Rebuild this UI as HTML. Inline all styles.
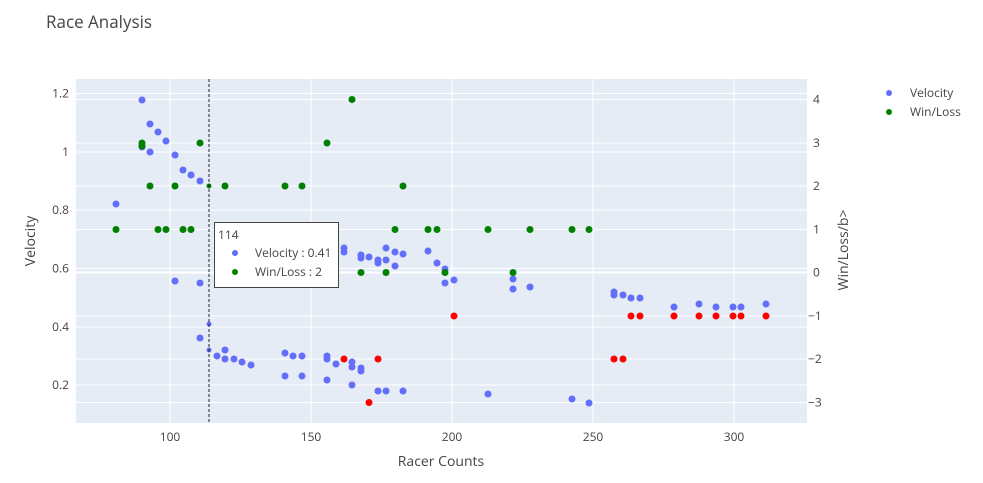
<!DOCTYPE html>
<html><head><meta charset="utf-8"><style>
body{margin:0;background:#fff;}
text{font-family:"Open Sans","Liberation Sans",sans-serif;fill:#444;}
</style></head><body>
<svg width="983" height="478" xmlns="http://www.w3.org/2000/svg">
<rect width="983" height="478" fill="#fff"/>
<rect x="76" y="79" width="731" height="344" fill="#e5ecf6"/>
<g stroke="#fff" stroke-width="1">
<line x1="170" y1="79" x2="170" y2="423"/><line x1="311" y1="79" x2="311" y2="423"/>
<line x1="452" y1="79" x2="452" y2="423"/><line x1="593" y1="79" x2="593" y2="423"/>
<line x1="734" y1="79" x2="734" y2="423"/>
<line x1="76" y1="93.5" x2="807" y2="93.5"/><line x1="76" y1="152" x2="807" y2="152"/>
<line x1="76" y1="210" x2="807" y2="210"/><line x1="76" y1="268.5" x2="807" y2="268.5"/>
<line x1="76" y1="327" x2="807" y2="327"/><line x1="76" y1="385" x2="807" y2="385"/>
<line x1="76" y1="99.5" x2="807" y2="99.5"/><line x1="76" y1="143" x2="807" y2="143"/>
<line x1="76" y1="186" x2="807" y2="186"/><line x1="76" y1="229.5" x2="807" y2="229.5"/>
<line x1="76" y1="316" x2="807" y2="316"/><line x1="76" y1="359" x2="807" y2="359"/>
<line x1="76" y1="402.5" x2="807" y2="402.5"/>
<line x1="76" y1="272.5" x2="807" y2="272.5" stroke-width="2"/>
</g>
<g fill="#636efa">
<circle cx="116" cy="204" r="3.5"/><circle cx="142" cy="100" r="3.5"/><circle cx="142" cy="147" r="3.5"/><circle cx="150" cy="124" r="3.5"/><circle cx="150" cy="152" r="3.5"/><circle cx="158" cy="132" r="3.5"/><circle cx="166" cy="141" r="3.5"/><circle cx="175" cy="155" r="3.5"/><circle cx="175" cy="281" r="3.5"/><circle cx="183" cy="170" r="3.5"/><circle cx="191" cy="175" r="3.5"/><circle cx="200" cy="181" r="3.5"/><circle cx="200" cy="283" r="3.5"/><circle cx="200" cy="338" r="3.5"/><circle cx="209" cy="324" r="2.5"/><circle cx="209" cy="350" r="2.5"/><circle cx="217" cy="356" r="3.5"/><circle cx="225" cy="350" r="3.5"/><circle cx="225" cy="359" r="3.5"/><circle cx="234" cy="359" r="3.5"/><circle cx="242" cy="362" r="3.5"/><circle cx="251" cy="365" r="3.5"/><circle cx="285" cy="353" r="3.5"/><circle cx="285" cy="376" r="3.5"/><circle cx="293" cy="356" r="3.5"/><circle cx="302" cy="356" r="3.5"/><circle cx="302" cy="376" r="3.5"/><circle cx="327" cy="356" r="3.5"/><circle cx="327" cy="359" r="3.5"/><circle cx="327" cy="380" r="3.5"/><circle cx="336" cy="364" r="3.5"/><circle cx="344" cy="248" r="3.5"/><circle cx="344" cy="252" r="3.5"/><circle cx="352" cy="362" r="3.5"/><circle cx="352" cy="367" r="3.5"/><circle cx="352" cy="385" r="3.5"/><circle cx="361" cy="255" r="3.5"/><circle cx="361" cy="258" r="3.5"/><circle cx="361" cy="368" r="3.5"/><circle cx="361" cy="371" r="3.5"/><circle cx="369" cy="257" r="3.5"/><circle cx="378" cy="260" r="3.5"/><circle cx="378" cy="263" r="3.5"/><circle cx="378" cy="391" r="3.5"/><circle cx="386" cy="248" r="3.5"/><circle cx="386" cy="260" r="3.5"/><circle cx="386" cy="391" r="3.5"/><circle cx="395" cy="252" r="3.5"/><circle cx="395" cy="266" r="3.5"/><circle cx="403" cy="254" r="3.5"/><circle cx="403" cy="391" r="3.5"/><circle cx="428" cy="251" r="3.5"/><circle cx="437" cy="263" r="3.5"/><circle cx="445" cy="269" r="3.5"/><circle cx="445" cy="283" r="3.5"/><circle cx="454" cy="280" r="3.5"/><circle cx="488" cy="394" r="3.5"/><circle cx="513" cy="279" r="3.5"/><circle cx="513" cy="289" r="3.5"/><circle cx="530" cy="287" r="3.5"/><circle cx="572" cy="399" r="3.5"/><circle cx="589" cy="403" r="3.5"/><circle cx="614" cy="292" r="3.5"/><circle cx="614" cy="295" r="3.5"/><circle cx="623" cy="295" r="3.5"/><circle cx="631" cy="298" r="3.5"/><circle cx="640" cy="298" r="3.5"/><circle cx="674" cy="307" r="3.5"/><circle cx="699" cy="304" r="3.5"/><circle cx="716" cy="307" r="3.5"/><circle cx="733" cy="307" r="3.5"/><circle cx="741" cy="307" r="3.5"/><circle cx="766" cy="304" r="3.5"/>
</g>
<g fill="#008000">
<circle cx="116" cy="229.5" r="3.5"/><circle cx="142" cy="143" r="3.5"/><circle cx="142" cy="146" r="3.5"/><circle cx="150" cy="186" r="3.5"/><circle cx="158" cy="229.5" r="3.5"/><circle cx="166" cy="229.5" r="3.5"/><circle cx="175" cy="186" r="3.5"/><circle cx="183" cy="229.5" r="3.5"/><circle cx="191" cy="229.5" r="3.5"/><circle cx="200" cy="143" r="3.5"/><circle cx="209" cy="186" r="2.5"/><circle cx="225" cy="186" r="3.5"/><circle cx="285" cy="186" r="3.5"/><circle cx="302" cy="186" r="3.5"/><circle cx="327" cy="143" r="3.5"/><circle cx="352" cy="99.5" r="3.5"/><circle cx="361" cy="272.5" r="3.5"/><circle cx="386" cy="272.5" r="3.5"/><circle cx="395" cy="229.5" r="3.5"/><circle cx="403" cy="186" r="3.5"/><circle cx="428" cy="229.5" r="3.5"/><circle cx="437" cy="229.5" r="3.5"/><circle cx="445" cy="272.5" r="3.5"/><circle cx="488" cy="229.5" r="3.5"/><circle cx="513" cy="272.5" r="3.5"/><circle cx="530" cy="229.5" r="3.5"/><circle cx="572" cy="229.5" r="3.5"/><circle cx="589" cy="229.5" r="3.5"/>
</g>
<g fill="#ff0000">
<circle cx="344" cy="359" r="3.5"/><circle cx="369" cy="402.5" r="3.5"/><circle cx="378" cy="359" r="3.5"/><circle cx="454" cy="316" r="3.5"/><circle cx="614" cy="359" r="3.5"/><circle cx="623" cy="359" r="3.5"/><circle cx="631" cy="316" r="3.5"/><circle cx="640" cy="316" r="3.5"/><circle cx="674" cy="316" r="3.5"/><circle cx="699" cy="316" r="3.5"/><circle cx="716" cy="316" r="3.5"/><circle cx="733" cy="316" r="3.5"/><circle cx="741" cy="316" r="3.5"/><circle cx="766" cy="316" r="3.5"/>
</g>
<line x1="209" y1="79" x2="209" y2="423" stroke="#222" stroke-width="1" stroke-dasharray="3,2"/>
<rect x="214.5" y="222.5" width="124" height="65" fill="#fff" stroke="#444"/>
<text x="218" y="239" font-size="12">114</text>
<circle cx="235" cy="253" r="3" fill="#636efa"/><text x="255" y="257" font-size="12">Velocity : 0.41</text>
<circle cx="235" cy="272" r="3" fill="#008000"/><text x="255" y="276" font-size="12">Win/Loss : 2</text>
<g font-size="12" text-anchor="end">
<text x="69" y="97.5">1.2</text><text x="69" y="156">1</text><text x="69" y="214">0.8</text><text x="69" y="272.5">0.6</text><text x="69" y="331">0.4</text><text x="69" y="389">0.2</text>
</g>
<g font-size="12">
<text x="813" y="103.5">4</text><text x="813" y="147">3</text><text x="813" y="190">2</text><text x="813" y="233.5">1</text><text x="813" y="276.5">0</text><text x="808" y="320">−1</text><text x="808" y="363">−2</text><text x="808" y="406.5">−3</text>
</g>
<g font-size="12" text-anchor="middle">
<text x="170" y="441">100</text><text x="311" y="441">150</text><text x="452" y="441">200</text><text x="593" y="441">250</text><text x="734" y="441">300</text>
</g>
<text x="46" y="28" font-size="17">Race Analysis</text>
<text x="441" y="466" font-size="14" text-anchor="middle">Racer Counts</text>
<text transform="translate(35,241) rotate(-90)" font-size="14" text-anchor="middle">Velocity</text>
<text transform="translate(848,250) rotate(-90)" font-size="14" text-anchor="middle">Win/Loss/b&gt;</text>
<circle cx="889" cy="93" r="3" fill="#636efa"/><text x="910" y="97" font-size="12">Velocity</text>
<circle cx="889" cy="112" r="3" fill="#008000"/><text x="910" y="116" font-size="12">Win/Loss</text>
</svg>
</body></html>
